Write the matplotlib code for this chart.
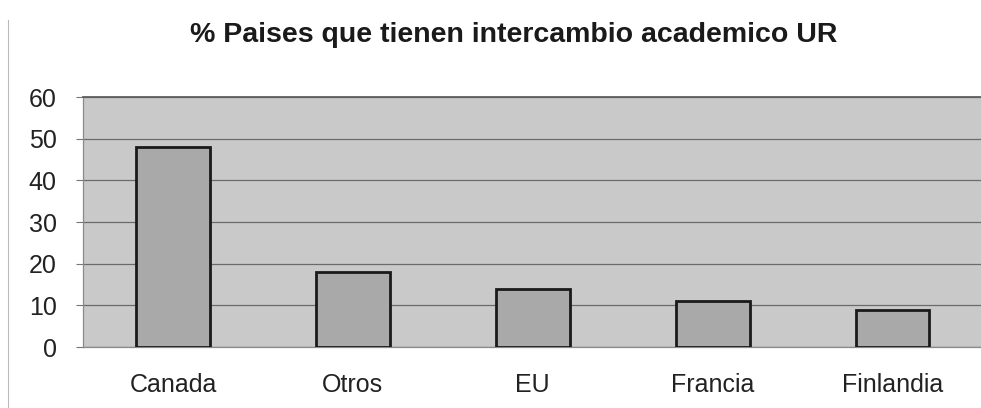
import matplotlib
matplotlib.use("Agg")
import matplotlib.pyplot as plt
from matplotlib.lines import Line2D

categories = ["Canada", "Otros", "EU", "Francia", "Finlandia"]
values = [48, 18, 14, 11, 9]
yticks = [0, 10, 20, 30, 40, 50, 60]
title = "% Paises que tienen intercambio academico UR"

plt.rcParams['font.family'] = ['Liberation Sans', 'DejaVu Sans']

fig = plt.figure(figsize=(9.81, 4.08), dpi=100)
fig.patch.set_facecolor("white")
ax = fig.add_axes([0.0846, 0.1495, 0.917, 0.6125])
ax.set_facecolor("#c9c9c9")

x = list(range(len(categories)))
ax.bar(x, values, width=0.41, color="#a9a9a9", edgecolor="#1a1a1a",
       linewidth=2.0, zorder=3)

ax.set_xlim(-0.5, 4.5)
ax.set_ylim(0, 60)
ax.set_yticks(yticks)
ax.set_yticklabels([str(t) for t in yticks], fontsize=18, color="#222222")
ax.set_xticks(x)
ax.set_xticklabels(categories, fontsize=18, color="#222222")
ax.tick_params(axis="x", length=0, pad=19)
ax.tick_params(axis="y", length=5, width=0.8, color="#777777", pad=14)
ax.yaxis.grid(True, color="#6a6a6a", linewidth=0.9, zorder=1)
ax.set_axisbelow(True)
for s in ["left", "right", "bottom"]:
    ax.spines[s].set_color("#8a8a8a")
    ax.spines[s].set_linewidth(0.9)
ax.spines["top"].set_color("#606060")
ax.spines["top"].set_linewidth(1.3)

fig.text(0.524, 0.913, title, ha="center", va="center", fontsize=20.5,
         fontweight="bold", color="#1a1a1a")

# page border line of the scanned chart
fig.add_artist(Line2D([0.008, 0.008], [0.0, 0.95], transform=fig.transFigure,
                      color="#bbbbbb", linewidth=0.8))

fig.savefig("out.png", dpi=100, facecolor="white")
